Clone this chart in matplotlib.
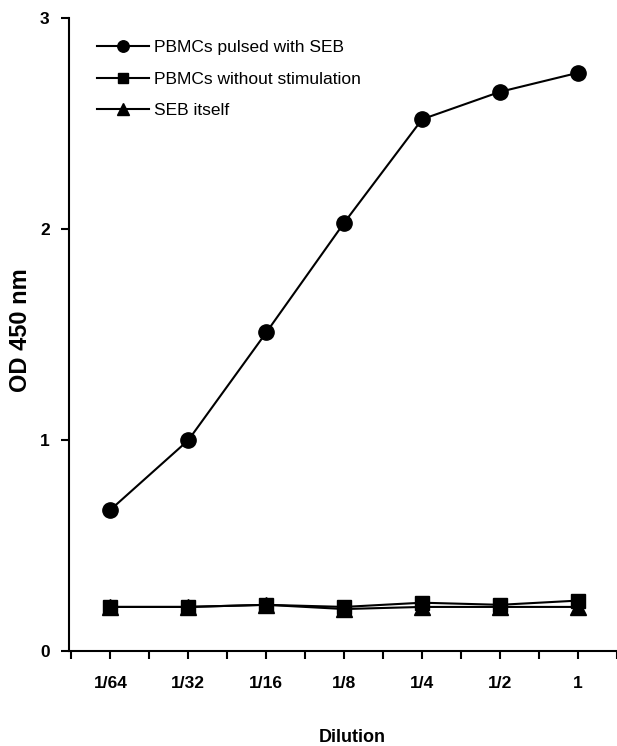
import numpy as np
import matplotlib.pyplot as plt
from matplotlib.ticker import MultipleLocator

plt.rcParams['font.family'] = ['Liberation Sans', 'DejaVu Sans']

dilutions = ['1/64', '1/32', '1/16', '1/8', '1/4', '1/2', '1']
pulsed = [0.67, 1.00, 1.51, 2.03, 2.52, 2.65, 2.74]
unstim = [0.21, 0.21, 0.22, 0.21, 0.23, 0.22, 0.24]
seb = [0.21, 0.21, 0.22, 0.20, 0.21, 0.21, 0.21]

x = np.arange(len(dilutions))

fig = plt.figure(figsize=(6.17, 7.46), dpi=100)
ax = fig.add_axes([0.112, 0.127, 0.888, 0.849])

ax.plot(x, pulsed, '-o', color='black', lw=1.5, ms=11, label='PBMCs pulsed with SEB')
ax.plot(x, unstim, '-s', color='black', lw=1.5, ms=10, label='PBMCs without stimulation', zorder=2)
# triangles sit on top of the squares in the original
ax.plot(x, seb, '-^', color='black', lw=1.5, ms=11, label='SEB itself', zorder=3)

ax.set_xlim(-0.53, 6.5)
ax.set_ylim(0, 3)
ax.set_xticks(x)
ax.set_xticklabels(dilutions, fontweight='bold', fontsize=12.5)
ax.xaxis.set_minor_locator(MultipleLocator(1, offset=0.5))
ax.set_yticks([0, 1, 2, 3])
ax.set_yticklabels(['0', '1', '2', '3'], fontweight='bold', fontsize=12.5)
ax.tick_params(axis='both', which='major', direction='out', length=6, width=1.5, pad=12)
ax.tick_params(axis='x', which='minor', direction='out', length=6, width=1.5)
ax.tick_params(axis='y', pad=8)

for s in ['top', 'right']:
    ax.spines[s].set_visible(False)
for s in ['left', 'bottom']:
    ax.spines[s].set_linewidth(1.5)

ax.set_ylabel('OD 450 nm', fontweight='bold', fontsize=17, va='center')
ax.yaxis.set_label_coords(-0.089, 0.507)
ax.set_xlabel('Dilution', fontweight='bold', fontsize=13, va='center')
ax.xaxis.set_label_coords(0.517, -0.136)

ax.legend(loc='upper left', bbox_to_anchor=(0.022, 0.99), frameon=False, fontsize=12.5,
          handlelength=3.0, handletextpad=0.3, labelspacing=0.95, markerscale=0.75)

fig.savefig('out.png', dpi=100)
